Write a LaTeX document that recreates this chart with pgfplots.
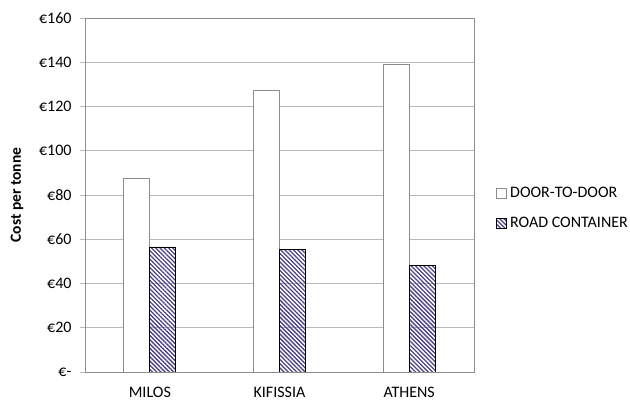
\documentclass[border=0pt]{standalone}
\usepackage{pgfplots}
\pgfplotsset{compat=1.18}
\usepackage{fontspec}
\setmainfont{Carlito}
\usetikzlibrary{patterns,patterns.meta}

\definecolor{gridgray}{HTML}{B8B8B8}
\definecolor{framegray}{HTML}{8C8C8C}
\definecolor{hatch}{HTML}{4A4088}

\begin{document}
\begin{tikzpicture}
\begin{axis}[
  scale only axis,
  width=389bp, height=354bp,
  xmin=-0.5, xmax=2.5,
  ymin=0, ymax=160,
  xtick={0,1,2},
  xticklabels={MILOS, KIFISSIA, ATHENS},
  major x tick style={draw=none},
  ytick={0,20,...,160},
  yticklabels={€-, €20, €40, €60, €80, €100, €120, €140, €160},
  ymajorgrids,
  grid style={gridgray, line width=0.9pt},
  axis line style={framegray, line width=0.9pt},
  major y tick style={gridgray, line width=0.9pt},
  ytick pos=left,
  tick align=outside,
  major tick length=5bp,
  tick label style={font=\fontsize{16bp}{18bp}\selectfont},
  yticklabel style={xshift=-5bp},
  xticklabel style={yshift=-7bp},
  ylabel={\bfseries Cost per tonne},
  ylabel style={font=\fontsize{15.5bp}{17bp}\selectfont, yshift=9bp},
  ybar=0pt,
  bar width=26bp,
  legend style={
    at={(rel axis cs:1.057,0.462)}, anchor=west,
    draw=none, fill=none,
    inner sep=0pt,
    nodes={inner sep=1.5bp},
    font=\fontsize{16bp}{18bp}\selectfont,
    row sep=15bp,
    legend cell align=left,
    /tikz/every odd column/.append style={column sep=1.5bp},
  },
  legend image code/.code={
    \draw[#1] (0bp,-5bp) rectangle (10bp,5bp);
  },
]
\addplot[draw=framegray, fill=white, line width=0.8pt]
  coordinates {(0,87.5) (1,127.2) (2,138.9)};
\addplot[draw=black, line width=0.8pt,
         pattern={Lines[angle=-45, distance=3bp, line width=1.3bp]},
         pattern color=hatch]
  coordinates {(0,56.5) (1,55.4) (2,48.1)};
\legend{DOOR-TO-DOOR, ROAD CONTAINER}
\end{axis}
\path (current axis.south west) +(-85bp,-30bp)
      (current axis.north east) +(156bp,18bp);
\end{tikzpicture}
\end{document}
